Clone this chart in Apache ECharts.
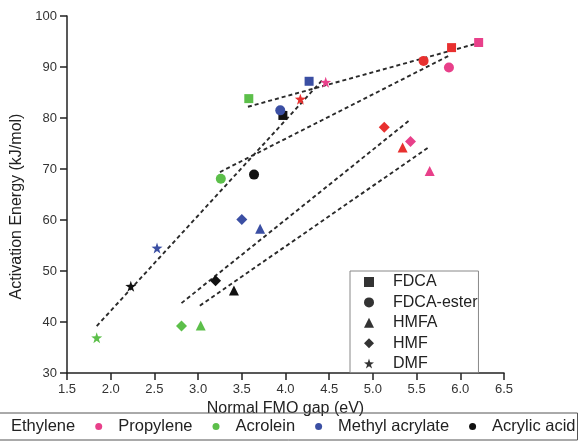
<!DOCTYPE html>
<html>
<head>
<meta charset="utf-8">
<script src="https://cdn.jsdelivr.net/npm/echarts@6/dist/echarts.min.js"></script>
<style>
html,body{margin:0;padding:0;background:#fff;}
#chart{width:581px;height:441px;}
</style>
</head>
<body>
<div id="chart"></div>
<script>
// Shapes (order of points in each substrate array)
const shapeNames = ['FDCA', 'FDCA-ester', 'HMFA', 'HMF', 'DMF'];
const shapeSymbols = ['rect', 'circle', 'triangle', 'diamond', 'path://M50,0 L61.8,36.2 L100,38.2 L69.1,61.8 L80.9,100 L50,77.6 L19.1,100 L30.9,61.8 L0,38.2 L38.2,36.2 Z'];
const shapeSizes = [9, 10, 10, 11, 11];

// Substrates (legend order)
const substrateNames = ['Ethylene', 'Propylene', 'Acrolein', 'Methyl acrylate', 'Acrylic acid'];
const substrateColors = ['#e8302f', '#e8408a', '#5cbf4a', '#3b4fa3', '#111111'];

// [Normal FMO gap (eV), Activation energy (kJ/mol)] per shape
const ethylene = [[5.90, 93.8], [5.58, 91.2], [5.34, 74.2], [5.13, 78.2], [4.17, 83.7]];
const propylene = [[6.21, 94.8], [5.87, 89.9], [5.65, 69.6], [5.43, 75.4], [4.46, 87.0]];
const acrolein = [[3.58, 83.8], [3.26, 68.1], [3.03, 39.3], [2.81, 39.2], [1.84, 36.9]];
const methylAcrylate = [[4.27, 87.2], [3.94, 81.5], [3.71, 58.3], [3.50, 60.1], [2.53, 54.5]];
const acrylicAcid = [[3.97, 80.5], [3.64, 68.9], [3.41, 46.2], [3.20, 48.1], [2.23, 47.0]];

// Dashed trend lines (endpoints)
const fitFDCA = [[3.57, 82.2], [6.23, 94.8]];
const fitEster = [[3.25, 69.4], [5.88, 92.3]];
const fitDMF = [[1.84, 39.2], [4.43, 87.6]];
const fitHMF = [[2.81, 43.7], [5.43, 79.7]];
const fitHMFA = [[3.02, 43.2], [5.65, 74.4]];

// Axis ticks
const xTicks = { min: 1.5, max: 6.5, interval: 0.5 };
const yTicks = { min: 30, max: 100, interval: 10 };

const substrateData = [ethylene, propylene, acrolein, methylAcrylate, acrylicAcid];
const fits = [fitFDCA, fitEster, fitDMF, fitHMF, fitHMFA];

const FONT = 'Liberation Sans, Arial, sans-serif';
const series = [];

fits.forEach(function (f) {
  series.push({
    type: 'line',
    data: f,
    symbol: 'none',
    silent: true,
    z: 1,
    lineStyle: { color: '#2a2a2a', width: 1.9, type: [4, 3] }
  });
});

// draw order: acrylic acid first so the blue circle overlaps it
const drawOrder = [4, 0, 1, 2, 3];
drawOrder.forEach(function (si) {
  series.push({
    type: 'scatter',
    name: substrateNames[si],
    z: 3,
    itemStyle: { color: substrateColors[si], opacity: 1 },
    data: substrateData[si].map(function (p, k) {
      return { value: p, symbol: shapeSymbols[k], symbolSize: shapeSizes[k] };
    })
  });
});

shapeNames.forEach(function (n, k) {
  series.push({
    type: 'scatter',
    name: n,
    symbol: shapeSymbols[k],
    symbolSize: shapeSizes[k],
    itemStyle: { color: '#000' },
    data: []
  });
});

const chart = echarts.init(document.getElementById('chart'), null, { renderer: 'canvas' });
chart.setOption({
  animation: false,
  backgroundColor: '#fff',
  textStyle: { fontFamily: FONT },
  grid: { left: 67, right: 77, top: 16, bottom: 68, containLabel: false },
  xAxis: {
    type: 'value',
    min: xTicks.min, max: xTicks.max, interval: xTicks.interval,
    name: 'Normal FMO gap (eV)',
    nameLocation: 'middle',
    nameGap: 28,
    nameTextStyle: { fontSize: 16, color: '#222', fontFamily: FONT },
    axisLine: { show: true, onZero: false, lineStyle: { color: '#222', width: 1.5 } },
    axisTick: { show: true, length: 7, lineStyle: { color: '#222', width: 1.5 } },
    axisLabel: { fontSize: 13, color: '#333', margin: 10, fontFamily: FONT,
      formatter: function (v) { return v.toFixed(1); } },
    splitLine: { show: false }
  },
  yAxis: {
    type: 'value',
    min: yTicks.min, max: yTicks.max, interval: yTicks.interval,
    name: 'Activation Energy (kJ/mol)',
    nameLocation: 'middle',
    nameGap: 37,
    nameTextStyle: { fontSize: 16, color: '#222', fontFamily: FONT, padding: [0, 24, 0, 0] },
    axisLine: { show: true, onZero: false, lineStyle: { color: '#222', width: 1.5 } },
    axisTick: { show: true, length: 7, lineStyle: { color: '#222', width: 1.5 } },
    axisLabel: { fontSize: 13, color: '#333', margin: 10, fontFamily: FONT },
    splitLine: { show: false }
  },
  legend: [
    {
      data: substrateNames,
      orient: 'horizontal',
      left: -20,
      top: 413,
      width: 660,
      icon: 'circle',
      itemWidth: 7,
      itemHeight: 7,
      itemGap: 20,
      padding: [5, 2, 5, 8],
      borderColor: '#555',
      borderWidth: 1,
      selectedMode: false,
      textStyle: { fontSize: 16.5, color: '#222', fontFamily: FONT, lineHeight: 16, padding: [0, 0, 0, 11] }
    },
    {
      data: shapeNames,
      orient: 'vertical',
      left: 350,
      top: 271,
      itemWidth: 10,
      itemHeight: 10,
      itemGap: 4.4,
      padding: [3, 1, 1, 14],
      borderColor: '#888',
      borderWidth: 1,
      selectedMode: false,
      textStyle: { fontSize: 16, color: '#222', fontFamily: FONT, lineHeight: 16, padding: [0, 0, 0, 14] }
    }
  ],
  series: series
});
</script>
</body>
</html>
